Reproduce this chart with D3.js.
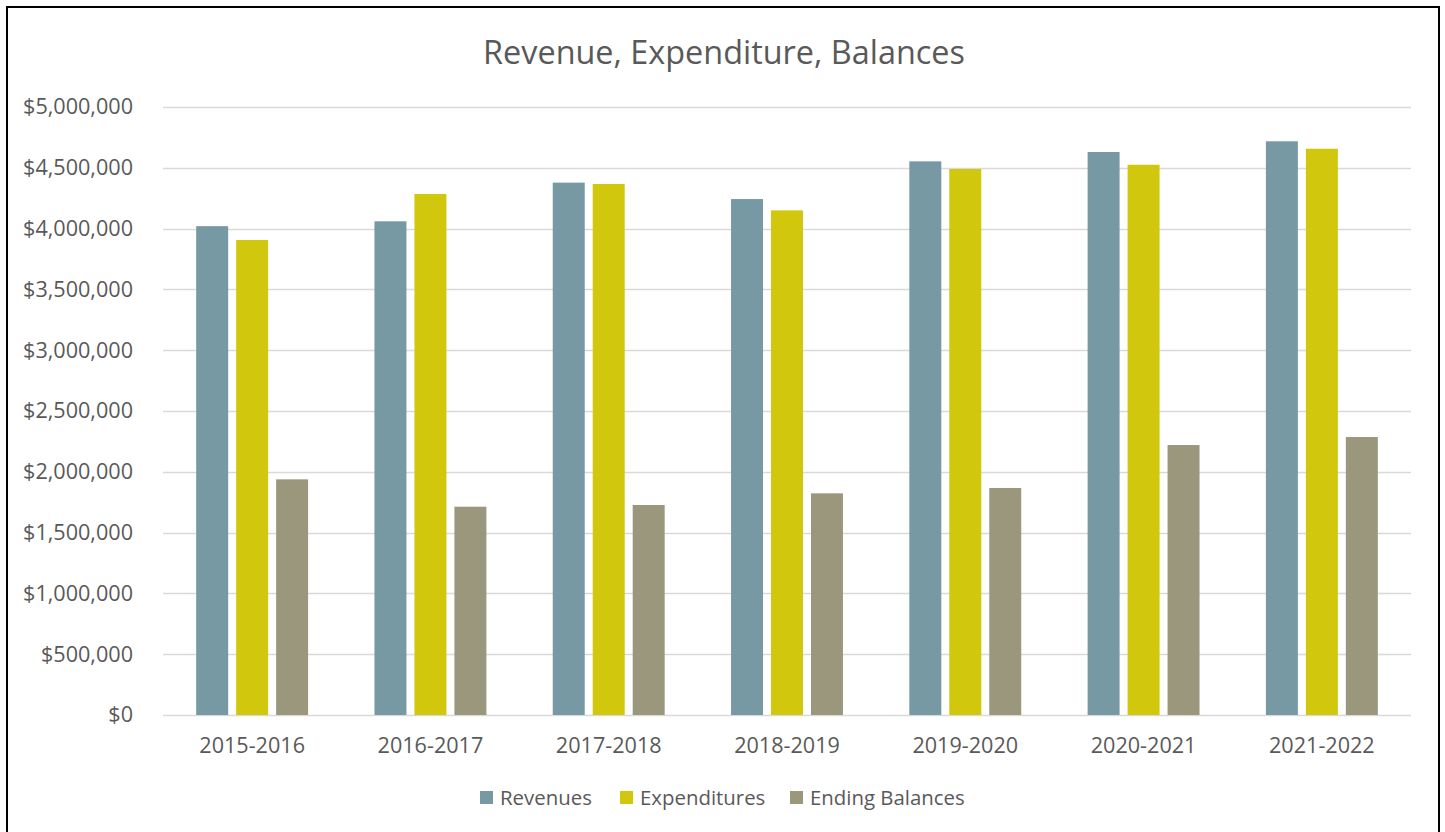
<!DOCTYPE html>
<html><head><meta charset="utf-8">
<script src="https://cdn.jsdelivr.net/npm/d3@7"></script>
<style>
html,body{margin:0;padding:0;background:#fff;}
svg{display:block;font-family:"Open Sans","Noto Sans",sans-serif;}
</style></head><body>
<svg id="chart" width="1445" height="832"></svg>
<script>
const categories = ["2015-2016","2016-2017","2017-2018","2018-2019","2019-2020","2020-2021","2021-2022"];
const seriesNames = ["Revenues","Expenditures","Ending Balances"];
const revenues = [4020000,4060000,4378000,4243000,4553000,4630000,4718000];
const expenditures = [3906000,4285000,4367000,4150000,4490000,4525000,4657000];
const endingBalances = [1938000,1713000,1727000,1823000,1867000,2220000,2286000];
const yTicks = [0,500000,1000000,1500000,2000000,2500000,3000000,3500000,4000000,4500000,5000000];
const colors = ["#7699A3","#D1C70C","#9A977D"];
const title = "Revenue, Expenditure, Balances";

const series = [revenues, expenditures, endingBalances];
const svg = d3.select("#chart");
const m = {left:163, right:1411, top:107, bottom:715};

svg.append("rect").attr("x",7).attr("y",7).attr("width",1432).attr("height",840)
  .attr("fill","#fff").attr("stroke","#000").attr("stroke-width",2);

const x = d3.scaleBand().domain(categories).range([m.left,m.right]).paddingInner(0).paddingOuter(0);
const y = d3.scaleLinear().domain([0,5000000]).range([m.bottom,m.top]);
const inner = d3.scaleBand().domain(d3.range(3)).range([0,x.bandwidth()]).paddingInner(0.2).paddingOuter(0.83);

// gridlines
svg.append("g").selectAll("line").data(yTicks).join("line")
  .attr("x1",m.left).attr("x2",m.right)
  .attr("y1",d=>Math.round(y(d))+0.5).attr("y2",d=>Math.round(y(d))+0.5)
  .attr("stroke","#D9D9D9").attr("stroke-width",1.3);

// bars
const g = svg.append("g");
series.forEach((vals,si)=>{
  g.selectAll(".b"+si).data(vals).join("rect")
    .attr("x",(d,i)=>x(categories[i])+inner(si))
    .attr("width",inner.bandwidth())
    .attr("y",d=>y(d)).attr("height",d=>y(0)-y(d))
    .attr("fill",colors[si]);
});

// y axis
const yAxis = d3.axisLeft(y).tickValues(yTicks).tickSize(0).tickPadding(0)
  .tickFormat(d=>"$"+d3.format(",")(d));
const ya = svg.append("g").attr("transform",`translate(133,0)`).call(yAxis);
ya.select(".domain").remove();
ya.selectAll("text").attr("font-size",21.6).attr("fill","#595959").attr("font-family",'"Open Sans",sans-serif');

// x axis
const xAxis = d3.axisBottom(x).tickSize(0).tickPadding(0);
const xa = svg.append("g").attr("transform",`translate(0,${m.bottom})`).call(xAxis);
xa.select(".domain").remove();
xa.selectAll("text").attr("dy",null).attr("y",38).attr("font-size",21.6).attr("fill","#595959").attr("font-family",'"Open Sans",sans-serif');

// title
svg.append("text").attr("x",724).attr("y",64).attr("text-anchor","middle")
  .attr("font-size",32.4).attr("fill","#595959").text(title);

// legend
const legX = [480,620,790];
const leg = svg.append("g");
seriesNames.forEach((n,i)=>{
  leg.append("rect").attr("x",legX[i]).attr("y",791).attr("width",13).attr("height",13).attr("fill",colors[i]);
  leg.append("text").attr("x",legX[i]+20).attr("y",805).attr("font-size",20.4).attr("fill","#595959").text(n);
});
</script></body></html>
